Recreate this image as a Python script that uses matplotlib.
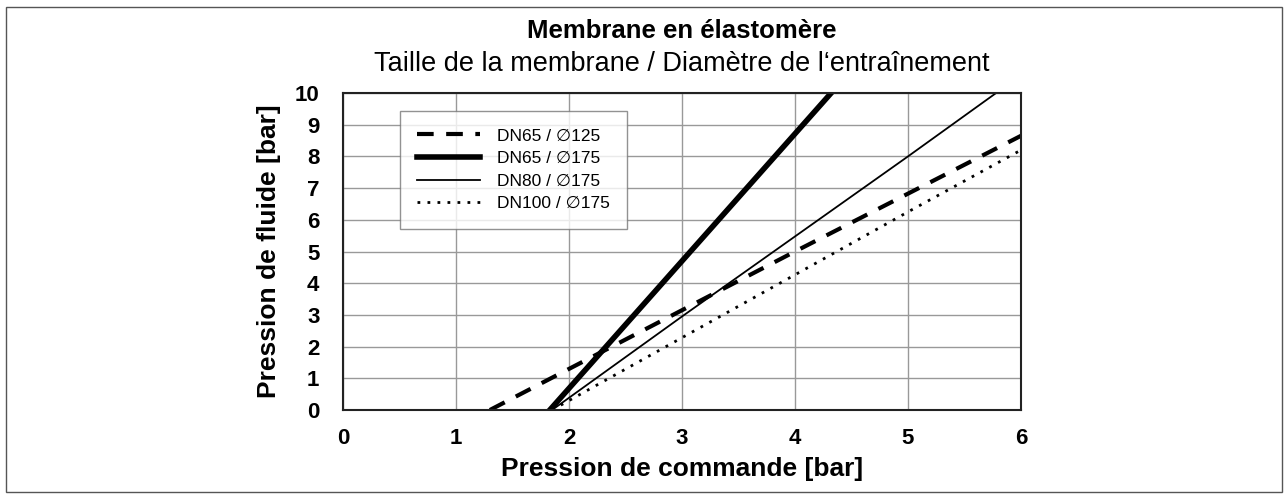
import matplotlib.pyplot as plt
from matplotlib.patches import Rectangle

plt.rcParams['font.family'] = ['Liberation Sans', 'DejaVu Sans']

# control pressure [bar] -> fluid pressure [bar]
dn65_125_x = [1.30, 4.0, 6.0]
dn65_125_y = [0.0, 5.0, 8.65]

dn65_175_x = [1.83, 4.32]
dn65_175_y = [0.0, 10.0]

dn80_175_x = [1.85, 3.0, 5.0, 5.78]
dn80_175_y = [0.0, 2.95, 8.0, 10.0]

dn100_175_x = [1.85, 5.0, 6.0]
dn100_175_y = [0.0, 6.25, 8.2]

labels = ['DN65 / \u2205125', 'DN65 / \u2205175', 'DN80 / \u2205175', 'DN100 / \u2205175']
x_ticks = [0, 1, 2, 3, 4, 5, 6]
y_ticks = list(range(11))

W, H = 1288, 499
fig = plt.figure(figsize=(W / 100, H / 100), dpi=100)
fig.patches.append(Rectangle((6 / W, 7 / H), 1276 / W, 485 / H,
                             transform=fig.transFigure, fill=False,
                             edgecolor='#555555', linewidth=1.0))

ax = fig.add_axes([343 / W, 1 - 410 / H, 678 / W, 317 / H])

ax.plot(dn65_125_x, dn65_125_y, color='black', lw=3.0, ls=(0, (4, 3)), label=labels[0])
ax.plot(dn65_175_x, dn65_175_y, color='black', lw=4.0, ls='-', label=labels[1])
ax.plot(dn80_175_x, dn80_175_y, color='black', lw=1.3, ls='-', label=labels[2])
ax.plot(dn100_175_x, dn100_175_y, color='black', lw=2.0, ls=(0, (1, 2.6)), label=labels[3])

ax.set_xlim(0, 6)
ax.set_ylim(0, 10)
ax.set_xticks(x_ticks)
ax.set_yticks(y_ticks)
ax.grid(True, color='#999999', lw=1.0)
ax.tick_params(length=0, labelsize=16)
ax.tick_params(axis='x', pad=13)
ax.tick_params(axis='y', pad=17)
for lab in ax.get_xticklabels() + ax.get_yticklabels():
    lab.set_fontweight('bold')
for sp in ax.spines.values():
    sp.set_linewidth(1.5)
    sp.set_color('#222222')

ax.set_xlabel('Pression de commande [bar]', fontsize=19, fontweight='bold', labelpad=5.5)
ax.set_ylabel('Pression de fluide [bar]', fontsize=19, fontweight='bold', labelpad=10)

fig.text(682 / W, 1 - 31 / H, 'Membrane en élastomère', ha='center', va='center',
         fontsize=18.5, fontweight='bold')
fig.text(682 / W, 1 - 64 / H, 'Taille de la membrane / Diamètre de l\u2018entraînement',
         ha='center', va='center', fontsize=19.5)

leg = ax.legend(loc='upper left', bbox_to_anchor=(57 / 678, 1 - 18 / 317), fontsize=12.5,
                frameon=True, fancybox=False, edgecolor='#777777', handlelength=3.6,
                labelspacing=0.43, borderpad=1.0, handletextpad=1.0, borderaxespad=0)
leg.get_frame().set_linewidth(1.0)

fig.savefig('out.png', dpi=100)
